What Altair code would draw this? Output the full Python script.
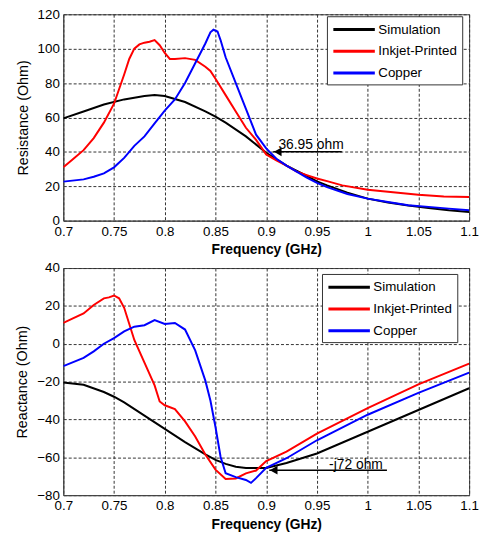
import altair as alt
import pandas as pd

# ---------------- data ----------------
series = ["Simulation", "Inkjet-Printed", "Copper"]
colors = ["#000000", "#ff0000", "#0000ff"]

freq_ticks = [0.7, 0.75, 0.8, 0.85, 0.9, 0.95, 1.0, 1.05, 1.1]
res_ticks = [0, 20, 40, 60, 80, 100, 120]
rea_ticks = [-80, -60, -40, -20, 0, 20, 40]

# Resistance (top)
r_sim_f = [0.70, 0.72, 0.74, 0.76, 0.78, 0.79, 0.80, 0.82, 0.84, 0.85, 0.86, 0.88, 0.90,
           0.92, 0.94, 0.95, 0.96, 0.98, 1.00, 1.02, 1.04, 1.06, 1.08, 1.10]
r_sim_v = [59.5, 63.5, 67.5, 70.5, 72.5, 73.0, 72.5, 69.0, 63.5, 60.5, 57.0, 49.0, 39.5,
           32.0, 26.0, 22.8, 20.5, 16.3, 12.8, 10.5, 8.8, 7.4, 6.0, 5.0]

r_ink_f = [0.70, 0.71, 0.72, 0.73, 0.74, 0.75, 0.76, 0.765, 0.77, 0.775, 0.78, 0.785, 0.79,
           0.795, 0.80, 0.805, 0.81, 0.82, 0.83, 0.84, 0.845, 0.85, 0.86, 0.87, 0.88, 0.89,
           0.90, 0.91, 0.92, 0.93, 0.94, 0.95, 0.96, 0.975, 1.00, 1.025, 1.05, 1.075, 1.10]
r_ink_v = [31.0, 36.0, 41.0, 48.0, 57.0, 68.0, 85.0, 94.0, 100.0, 102.5, 103.5, 104.0, 105.0,
           102.0, 97.5, 94.0, 94.0, 94.5, 93.5, 89.5, 87.0, 82.5, 73.0, 63.5, 54.0, 47.0,
           38.5, 35.0, 32.0, 28.5, 26.5, 24.5, 23.0, 20.5, 18.0, 16.5, 15.0, 14.0, 13.7]

r_cu_f = [0.70, 0.72, 0.73, 0.74, 0.75, 0.76, 0.77, 0.78, 0.79, 0.80, 0.81, 0.82, 0.83, 0.84,
          0.845, 0.848, 0.852, 0.855, 0.86, 0.87, 0.88, 0.89, 0.90, 0.91, 0.92, 0.93, 0.94,
          0.95, 0.96, 0.98, 1.00, 1.02, 1.04, 1.06, 1.08, 1.10]
r_cu_v = [22.7, 24.0, 25.5, 27.5, 31.0, 36.5, 43.5, 49.0, 56.5, 64.0, 70.5, 80.0, 91.5, 103.0,
          109.5, 111.0, 110.0, 105.0, 95.0, 80.0, 65.0, 50.0, 42.0, 36.0, 32.0, 28.5, 25.0,
          22.0, 19.5, 15.5, 12.8, 10.8, 9.0, 8.0, 7.0, 6.0]

# Reactance (bottom)
x_sim_f = [0.70, 0.72, 0.74, 0.75, 0.76, 0.78, 0.80, 0.82, 0.84, 0.85, 0.86, 0.87, 0.88,
           0.90, 0.92, 0.95, 1.00, 1.05, 1.10]
x_sim_v = [-20.5, -21.7, -25.5, -28.0, -31.0, -38.0, -45.0, -52.0, -58.5, -61.4, -63.5, -65.0,
           -65.6, -65.6, -63.0, -58.0, -46.5, -35.0, -23.5]

x_ink_f = [0.70, 0.71, 0.72, 0.73, 0.74, 0.745, 0.75, 0.755, 0.76, 0.77, 0.78, 0.79, 0.795,
           0.80, 0.81, 0.82, 0.83, 0.84, 0.85, 0.86, 0.87, 0.88, 0.89, 0.90, 0.92, 0.95,
           1.00, 1.05, 1.10]
x_ink_v = [11.0, 13.5, 16.0, 20.5, 24.0, 24.5, 25.5, 24.0, 19.0, 2.0, -10.0, -22.0, -30.5,
           -32.5, -34.5, -41.0, -49.0, -58.5, -66.5, -71.5, -71.2, -68.5, -67.0, -62.0, -57.0,
           -47.5, -34.0, -21.5, -10.5]

x_cu_f = [0.70, 0.72, 0.73, 0.74, 0.75, 0.76, 0.77, 0.78, 0.79, 0.80, 0.81, 0.82, 0.83, 0.84,
          0.845, 0.85, 0.855, 0.86, 0.87, 0.88, 0.885, 0.89, 0.90, 0.92, 0.95, 1.00, 1.05, 1.10]
x_cu_v = [-11.8, -7.5, -4.0, 0.0, 3.0, 6.5, 9.0, 9.8, 12.5, 10.5, 11.0, 7.5, -3.5, -19.5,
          -30.0, -44.0, -59.7, -68.4, -70.5, -72.0, -73.5, -71.0, -65.6, -60.5, -51.0, -37.5,
          -26.0, -15.3]

# annotations
r_note_text = ["36.95 ohm"]
r_note_tx = [0.912]
r_note_ty = [41.8]
r_arrow_from = [0.9745]
r_arrow_tip = [0.907]
r_arrow_y = [40.0]

x_note_text = ["-j72 ohm"]
x_note_tx = [0.962]
x_note_ty = [-66.2]
x_arrow_from = [1.019]
x_arrow_tip = [0.903]
x_arrow_y = [-66.8]

FONT = "Liberation Sans"
PX_PER_GHZ = 1027.5


def frame(fs, vs, name):
    return pd.DataFrame({"f": fs, "v": vs, "s": name})


def panel(curves, ticks, ytitle, note_text, note_tx, note_ty, a_from, a_tip, a_y,
          height, leg_x, leg_y):
    df = pd.concat([frame(*c) for c in curves], ignore_index=True)
    xs = alt.Scale(domain=[freq_ticks[0], freq_ticks[-1]], nice=False, zero=False)
    ys = alt.Scale(domain=[ticks[0], ticks[-1]], nice=False, zero=False)
    xax = alt.Axis(values=freq_ticks, format="~g", title="Frequency (GHz)",
                   labelFlush=False, labelOverlap=False, tickCount=len(freq_ticks))
    yax = alt.Axis(values=ticks, title=ytitle, labelOverlap=False, tickCount=len(ticks))

    lines = alt.Chart(df).mark_line(strokeWidth=2, clip=True).encode(
        x=alt.X("f:Q", scale=xs, axis=xax),
        y=alt.Y("v:Q", scale=ys, axis=yax),
        color=alt.Color(
            "s:N",
            scale=alt.Scale(domain=series, range=colors),
            sort=series,
            legend=alt.Legend(
                orient="none", legendX=leg_x, legendY=leg_y, title=None,
                symbolType="M-3,0H3", symbolSize=196, symbolStrokeWidth=3,
                labelFont=FONT, labelFontSize=13.5, labelColor="black", labelOffset=16,
                symbolOffset=14,
                strokeColor="#333333", fillColor="white", padding=5, rowPadding=7,
                cornerRadius=0,
            ),
        ),
        order="f:Q",
    )

    adf = pd.DataFrame({"x1": a_from, "x2": a_tip, "y": a_y,
                        "hx": [t + 4.5 / PX_PER_GHZ for t in a_tip]})
    rule = alt.Chart(adf).mark_rule(color="black", strokeWidth=1.5).encode(
        x=alt.X("x1:Q", scale=xs, axis=xax), x2="x2:Q", y=alt.Y("y:Q", scale=ys, axis=yax))
    head = alt.Chart(adf).mark_point(shape="triangle-left", filled=True, color="black",
                                     size=80, opacity=1).encode(
        x=alt.X("hx:Q", scale=xs, axis=xax), y=alt.Y("y:Q", scale=ys, axis=yax))
    tdf = pd.DataFrame({"x": note_tx, "y": note_ty, "t": note_text})
    text = alt.Chart(tdf).mark_text(align="left", baseline="alphabetic", font=FONT,
                                    fontSize=14, color="black").encode(
        x=alt.X("x:Q", scale=xs, axis=xax), y=alt.Y("y:Q", scale=ys, axis=yax), text="t:N")

    return alt.layer(lines, rule, head, text).properties(width=411, height=height)


top = panel([(r_sim_f, r_sim_v, series[0]), (r_ink_f, r_ink_v, series[1]),
             (r_cu_f, r_cu_v, series[2])],
            res_ticks, "Resistance (Ohm)", r_note_text, r_note_tx, r_note_ty,
            r_arrow_from, r_arrow_tip, r_arrow_y, 209, 267, 2)
bottom = panel([(x_sim_f, x_sim_v, series[0]), (x_ink_f, x_ink_v, series[1]),
                (x_cu_f, x_cu_v, series[2])],
               rea_ticks, "Reactance (Ohm)", x_note_text, x_note_tx, x_note_ty,
               x_arrow_from, x_arrow_tip, x_arrow_y, 230, 262, 6)

chart = (
    alt.vconcat(top, bottom, spacing=3)
    .resolve_scale(color="independent")
    .resolve_legend(color="independent")
    .properties(padding={"left": 6, "top": -5, "right": 0, "bottom": 0}, background="white")
    .configure_view(stroke="#444444", strokeWidth=1)
    .configure_axis(
        grid=True, gridColor="#333333", gridDash=[3, 2], gridWidth=1, gridOpacity=1,
        domain=True, domainColor="#444444", ticks=False, labelPadding=4,
        labelFont=FONT, labelFontSize=13.5, labelColor="black",
        titleFont=FONT, titleColor="black",
    )
    .configure_axisX(titleFontWeight="bold", titleFontSize=14, titlePadding=5)
    .configure_axisY(titleFontWeight="normal", titleFontSize=14.5, titlePadding=7)
)

chart.save("out.html", embed_options={"renderer": "svg", "actions": False})
